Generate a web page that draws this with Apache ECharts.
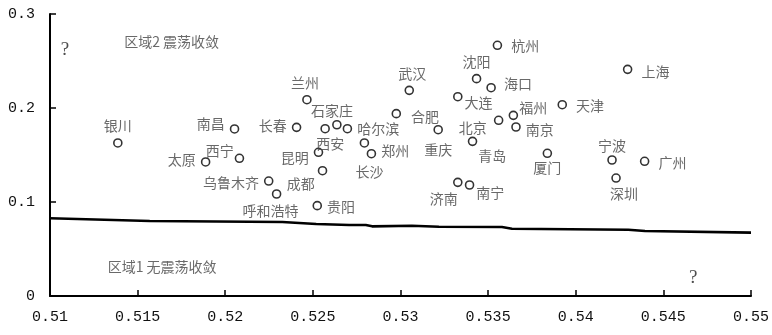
<!DOCTYPE html>
<html><head><meta charset="utf-8">
<script src="https://cdn.jsdelivr.net/npm/echarts@6/dist/echarts.min.js"></script>
<style>html,body{margin:0;padding:0;background:#fff}#c{width:772px;height:335px}</style>
</head><body><div id="c"></div>
<script>
var cities = ['银川','南昌','太原','西宁','兰州','长春','西安','石家庄','哈尔滨','昆明','成都','乌鲁木齐','呼和浩特','贵阳','长沙','郑州','合肥','武汉','重庆','大连','沈阳','海口','杭州','北京','青岛','济南','南宁','福州','南京','天津','上海','厦门','宁波','广州','深圳'];
var xValues = [0.51387,0.52053,0.51888,0.52081,0.52466,0.52407,0.52570,0.52637,0.52697,0.52532,0.52555,0.52248,0.52293,0.52525,0.52794,0.52834,0.52976,0.53050,0.53215,0.53327,0.53434,0.53517,0.53553,0.53560,0.53411,0.53327,0.53394,0.53644,0.53659,0.53923,0.54296,0.53838,0.54207,0.54393,0.54230];
var yValues = [0.1628,0.1777,0.1426,0.1465,0.2088,0.1794,0.1780,0.1822,0.1780,0.1529,0.1333,0.1223,0.1085,0.0961,0.1628,0.1514,0.1940,0.2188,0.1769,0.2120,0.2312,0.2216,0.2667,0.1869,0.1645,0.1209,0.1181,0.1922,0.1798,0.2035,0.2411,0.1518,0.1447,0.1433,0.1255];

var boundaryX = [0.51,0.51569,0.52326,0.52519,0.52707,0.52802,0.52838,0.53065,0.53219,0.53579,0.53636,0.54300,0.54395,0.55];
var boundaryY = [0.0827,0.0798,0.0787,0.0766,0.0755,0.0755,0.0741,0.0748,0.0737,0.0734,0.0716,0.0705,0.0691,0.0674];

var noteTexts = ['区域2 震荡收敛','?','区域1 无震荡收敛','?'];
var noteX = [0.51694,0.51085,0.51640,0.54670];
var noteY = [0.2702,0.2617,0.0309,0.0191];

var xTickLabels = ['0.51','0.515','0.52','0.525','0.53','0.535','0.54','0.545','0.55'];
var yTickLabels = ['0','0.1','0.2','0.3'];

// label placement (style only)
var labelPlace = {
 '银川':['top',[0,0]],'南昌':['left',[0,-5]],'太原':['left',[0,-2]],'西宁':['left',[4,-8]],
 '兰州':['top',[-2,0]],'长春':['left',[0,-2]],'西安':['bottom',[5,-2]],'石家庄':['top',[-5,3]],
 '哈尔滨':['right',[0,0]],'昆明':['left',[0,5]],'成都':['left',[2,13]],'乌鲁木齐':['left',[0,2]],
 '呼和浩特':['bottom',[-6,0]],'贵阳':['right',[0,1]],'长沙':['bottom',[5,12]],'郑州':['right',[0,-3]],
 '合肥':['right',[5,3]],'武汉':['top',[3,0]],'重庆':['bottom',[0,3]],'大连':['right',[-3,6]],
 '沈阳':['top',[0,0]],'海口':['right',[3,-4]],'杭州':['right',[4,0]],'北京':['left',[-2,7]],
 '青岛':['right',[-4,14]],'济南':['bottom',[-14,0]],'南宁':['right',[-3,8]],'福州':['right',[-4,-8]],
 '南京':['right',[0,3]],'天津':['right',[4,1]],'上海':['right',[4,2]],'厦门':['bottom',[0,-2]],
 '宁波':['top',[0,3]],'广州':['right',[4,1]],'深圳':['bottom',[8,-1]]
};

var pts = cities.map(function(c,i){
  var p = labelPlace[c];
  return {value:[xValues[i],yValues[i]], name:c,
    label:{show:true, formatter:c, position:p[0], offset:p[1], distance:5}};
});
var line = boundaryX.map(function(x,i){return [x,boundaryY[i]];});
var notes = noteTexts.map(function(t,i){
  var q = t === '?';
  return {value:[noteX[i],noteY[i]], label:{show:true, formatter:t, position:'inside',
    fontFamily: q ? 'Liberation Serif' : 'Noto Sans CJK SC', fontSize: q ? 19 : 14, color: q ? '#222' : '#444'}};
});

var chart = echarts.init(document.getElementById('c'));
chart.setOption({
  animation:false,
  backgroundColor:'#fff',
  grid:{left:50,right:19,top:14,bottom:39,containLabel:false},
  xAxis:{type:'value',min:0.51,max:0.55,interval:0.005,
    axisLine:{show:true,lineStyle:{color:'#000',width:2}},
    axisTick:{show:true,inside:true,length:6,lineStyle:{color:'#000',width:1.5}},
    axisLabel:{margin:14,color:'#111',fontFamily:'Liberation Mono',fontSize:15,
      formatter:function(v){var i=Math.round((v-0.51)/0.005);return xTickLabels[i]||'';}},
    splitLine:{show:false}},
  yAxis:{type:'value',min:0,max:0.3,interval:0.1,
    axisLine:{show:true,lineStyle:{color:'#000',width:2}},
    axisTick:{show:true,inside:true,length:6,lineStyle:{color:'#000',width:1.5}},
    axisLabel:{margin:15,color:'#111',fontFamily:'Liberation Mono',fontSize:15,
      formatter:function(v){var i=Math.round(v/0.1);return yTickLabels[i]||'';}},
    splitLine:{show:false}},
  series:[
    {type:'line',data:line,symbol:'none',smooth:false,lineStyle:{color:'#000',width:2.6},z:2},
    {type:'scatter',data:pts,symbol:'circle',symbolSize:8,
      itemStyle:{color:'#fff',borderColor:'#000',borderWidth:1.6},
      label:{color:'#444',fontFamily:'Noto Sans CJK SC',fontSize:14},z:3},
    {type:'scatter',data:notes,symbol:'circle',symbolSize:1,silent:true,
      itemStyle:{color:'rgba(0,0,0,0)',borderWidth:0},z:3}
  ]
});
</script></body></html>
